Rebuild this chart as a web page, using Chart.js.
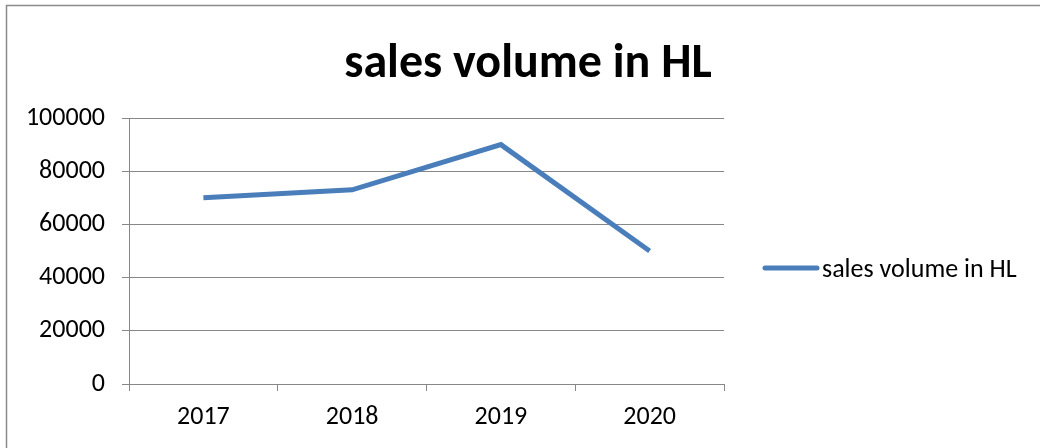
<!DOCTYPE html>
<html lang="en">
<head>
    <meta charset="UTF-8">
    <title>Sales Volume</title>
    <script src="https://cdn.jsdelivr.net/npm/chart.js"></script>
    <style>
        body {
            margin: 0;
            padding: 0;
            background-color: #fff;
        }

        .chart-container {
            width: 1040px;
            height: 448px;
        }
    </style>
</head>
<body>
    <div class="chart-container">
        <canvas id="salesChart" width="1040" height="448"></canvas>
    </div>

    <script>
        const years = ['2017', '2018', '2019', '2020'];
        const salesVolume = [70000, 73000, 90000, 50000];
        const seriesName = 'sales volume in HL';
        const chartTitle = 'sales volume in HL';
        const yMin = 0;
        const yMax = 100000;
        const yStep = 20000;

        const lineColor = '#4a7ebb';
        const axisColor = '#878787';
        const fontFamily = 'Carlito, Lato, "Open Sans", sans-serif';

        // Title, legend and the outer frame are drawn by hand so they sit where we want them
        const decorations = {
            id: 'decorations',
            afterDraw(chart) {
                const ctx = chart.ctx;
                ctx.save();

                // frame (top and left edges only)
                ctx.strokeStyle = '#8a8a8a';
                ctx.lineWidth = 1.5;
                ctx.beginPath();
                ctx.moveTo(6.5, chart.height);
                ctx.lineTo(6.5, 5.5);
                ctx.lineTo(chart.width, 5.5);
                ctx.stroke();

                // title
                ctx.fillStyle = '#000';
                ctx.font = 'bold 48px ' + fontFamily;
                ctx.textAlign = 'center';
                ctx.textBaseline = 'alphabetic';
                ctx.fillText(chartTitle, 528, 77);

                // legend
                const ds = chart.data.datasets[0];
                ctx.strokeStyle = ds.borderColor;
                ctx.lineWidth = 5;
                ctx.lineCap = 'round';
                ctx.beginPath();
                ctx.moveTo(765, 268);
                ctx.lineTo(817, 268);
                ctx.stroke();

                ctx.font = '26px ' + fontFamily;
                ctx.textAlign = 'left';
                ctx.fillText(ds.label, 822, 277);

                ctx.restore();
            }
        };

        const ctx = document.getElementById('salesChart').getContext('2d');
        const chart = new Chart(ctx, {
            type: 'line',
            data: {
                labels: years,
                datasets: [{
                    label: seriesName,
                    data: salesVolume,
                    borderColor: lineColor,
                    backgroundColor: lineColor,
                    borderWidth: 5,
                    pointRadius: 0,
                    tension: 0
                }]
            },
            options: {
                responsive: false,
                animation: false,
                devicePixelRatio: 1,
                layout: {
                    padding: { top: 118, right: 316, bottom: 0, left: 0 }
                },
                plugins: {
                    legend: { display: false },
                    title: { display: false },
                    tooltip: { enabled: false }
                },
                scales: {
                    x: {
                        offset: true,
                        grid: {
                            offset: true,
                            drawOnChartArea: false,
                            drawTicks: true,
                            tickLength: 7,
                            color: axisColor
                        },
                        border: { color: axisColor },
                        ticks: {
                            color: '#000',
                            padding: 11,
                            font: { family: fontFamily, size: 26 }
                        },
                        afterFit(scale) {
                            scale.height = 64;
                        }
                    },
                    y: {
                        min: yMin,
                        max: yMax,
                        grid: {
                            color: axisColor,
                            tickLength: 7
                        },
                        border: { color: axisColor },
                        ticks: {
                            stepSize: yStep,
                            color: '#000',
                            padding: 17,
                            font: { family: fontFamily, size: 26 },
                            callback: value => String(value)
                        },
                        afterFit(scale) {
                            scale.width = 129;
                        }
                    }
                }
            },
            plugins: [decorations]
        });
    </script>
</body>
</html>
